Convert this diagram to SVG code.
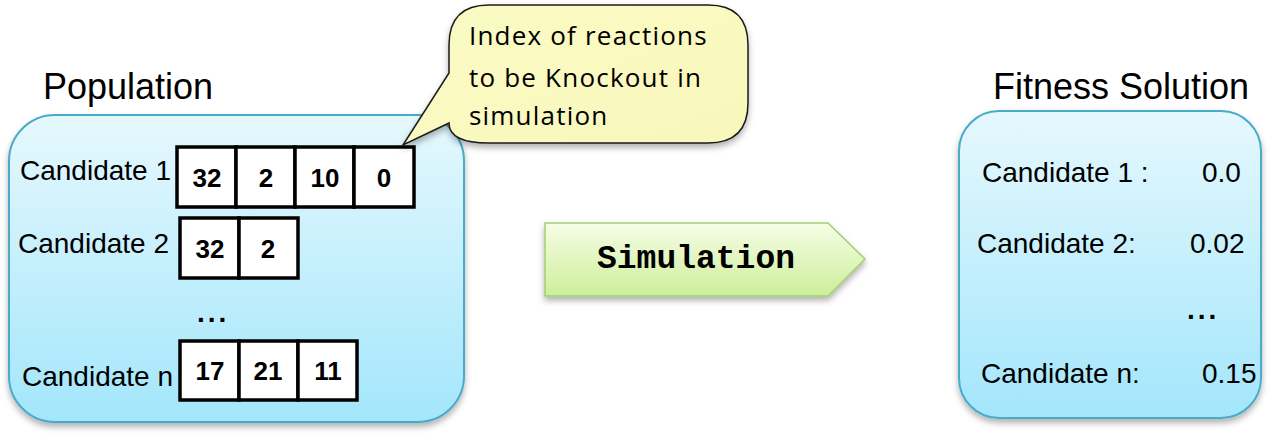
<svg xmlns="http://www.w3.org/2000/svg" width="1281" height="434" viewBox="0 0 1281 434">
<defs>
<linearGradient id="blue" x1="0" y1="0" x2="0" y2="1">
<stop offset="0" stop-color="#e6f8fe"/>
<stop offset="1" stop-color="#a3e6fb"/>
</linearGradient>
<linearGradient id="green" x1="0" y1="0" x2="0" y2="1">
<stop offset="0" stop-color="#f6fde6"/>
<stop offset="1" stop-color="#cdef9a"/>
</linearGradient>
<linearGradient id="yellow" x1="0" y1="0" x2="1" y2="1">
<stop offset="0" stop-color="#fafac4"/>
<stop offset="1" stop-color="#f8f8bc"/>
</linearGradient>
<filter id="shadow" x="-10%" y="-10%" width="120%" height="125%">
<feDropShadow dx="0" dy="4" stdDeviation="3" flood-color="#000" flood-opacity="0.3"/>
</filter>
</defs>
<style>
.box{fill:url(#blue);stroke:#4aaac9;stroke-width:2}
.lbl{font-family:"Liberation Sans",Arial,sans-serif;font-size:28px;fill:#000}
.title{font-family:"Liberation Sans",Arial,sans-serif;font-size:36px;fill:#000}
.cell{fill:#fff;stroke:#000;stroke-width:3.5}
.num{font-family:"Liberation Sans",Arial,sans-serif;font-size:26px;font-weight:bold;fill:#000;text-anchor:middle}
.dots{font-family:"Liberation Sans",Arial,sans-serif;font-size:28px;font-weight:bold;fill:#000;letter-spacing:3px}
.call{font-family:"Open Sans","DejaVu Sans",sans-serif;font-size:26px;letter-spacing:1.2px;fill:#000}
</style>

<text class="title" x="43" y="99">Population</text>
<text class="title" x="993" y="99">Fitness Solution</text>

<g id="population">
<rect class="box" x="9" y="115" width="455" height="307" rx="46" filter="url(#shadow)"/>
<text class="lbl" x="20" y="180">Candidate 1</text>
<text class="lbl" x="18" y="253">Candidate 2</text>
<text class="lbl" x="22" y="386">Candidate n</text>
<g id="row1">
<rect class="cell" x="177" y="147" width="59" height="60"/>
<rect class="cell" x="236" y="147" width="59" height="60"/>
<rect class="cell" x="295" y="147" width="59" height="60"/>
<rect class="cell" x="354" y="147" width="60" height="60"/>
<text class="num" x="207" y="187">32</text>
<text class="num" x="266" y="187">2</text>
<text class="num" x="325" y="187">10</text>
<text class="num" x="384" y="187">0</text>
</g>
<g id="row2">
<rect class="cell" x="180" y="218" width="59" height="60"/>
<rect class="cell" x="239" y="218" width="59" height="60"/>
<text class="num" x="210" y="258">32</text>
<text class="num" x="268" y="258">2</text>
</g>
<text class="dots" x="197" y="322">...</text>
<g id="rown">
<rect class="cell" x="180" y="341" width="59" height="59"/>
<rect class="cell" x="239" y="341" width="59" height="59"/>
<rect class="cell" x="298" y="341" width="59" height="59"/>
<text class="num" x="210" y="380">17</text>
<text class="num" x="268" y="380">21</text>
<text class="num" x="328" y="380">11</text>
</g>
</g>

<g id="callout">
<path d="M489,5 H708 Q748,5 748,45 V103 Q748,143 708,143 H489 Q449,143 449,123 L403,145 L449,73 V45 Q449,5 489,5 Z" fill="url(#yellow)" stroke="#1a1a1a" stroke-width="1.5" filter="url(#shadow)"/>
<text class="call" x="469" y="45">Index of reactions</text>
<text class="call" x="469" y="87">to be Knockout in</text>
<text class="call" x="469" y="125">simulation</text>
</g>

<g id="connectors">
<g id="simulation">
<path d="M545,223 H828 L865,259 L828,296 H545 Z" fill="url(#green)" stroke="#a2cf6f" stroke-width="1.5" filter="url(#shadow)"/>
<text x="696" y="268" text-anchor="middle" font-family="'Liberation Mono','Courier New',monospace" font-weight="bold" font-size="33" fill="#000">Simulation</text>
</g>
</g>

<g id="fitness">
<rect class="box" x="959" y="111" width="302" height="307" rx="40" filter="url(#shadow)"/>
<text class="lbl" x="982" y="182">Candidate 1 :</text>
<text class="lbl" x="1202" y="182">0.0</text>
<text class="lbl" x="977" y="253">Candidate 2:</text>
<text class="lbl" x="1190" y="253">0.02</text>
<text class="dots" x="1187" y="319">...</text>
<text class="lbl" x="981" y="383">Candidate n:</text>
<text class="lbl" x="1202" y="383">0.15</text>
</g>
</svg>
